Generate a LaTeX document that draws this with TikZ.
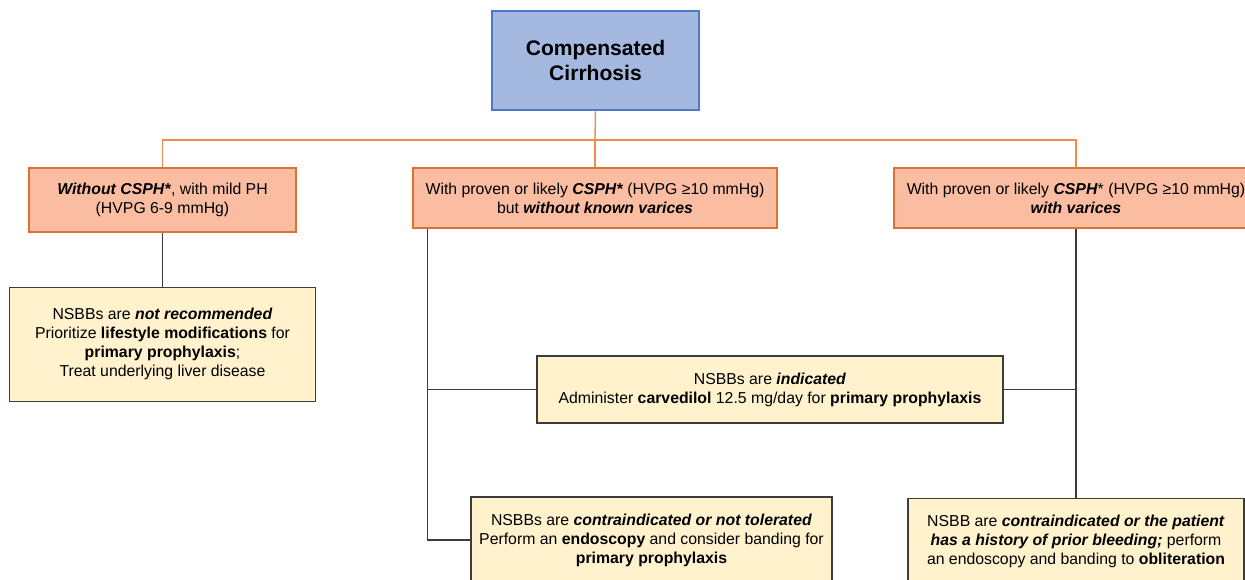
\documentclass[tikz,border=0pt]{standalone}
\usepackage{fontspec}
\setmainfont{Liberation Sans}
\usetikzlibrary{positioning}
\definecolor{cirblue}{RGB}{164,184,224}
\definecolor{cirline}{RGB}{80,120,196}
\definecolor{stagefill}{RGB}{251,189,162}
\definecolor{stageline}{RGB}{222,112,50}
\definecolor{advfill}{RGB}{255,242,204}
\definecolor{advline}{RGB}{60,60,60}
\definecolor{branchorange}{RGB}{240,140,80}
\definecolor{linkgray}{RGB}{60,60,60}

\begin{document}
\begin{tikzpicture}[x=0.02cm,y=-0.02cm,font=\fontsize{9}{10.8}\selectfont]
  \tikzstyle{box}=[draw,align=center,inner sep=2pt,line width=0.7pt]
  \tikzstyle{stage}=[box,fill=stagefill,draw=stageline]
  \tikzstyle{advice}=[box,fill=advfill,draw=advline]
  \tikzstyle{branch}=[draw=branchorange,line width=0.8pt]
  \tikzstyle{link}=[draw=linkgray,line width=0.9pt]
  \useasboundingbox (0,0) rectangle (1245,579);
  \clip (0,0) rectangle (1245,579);
  \node[box,fill=cirblue,draw=cirline,minimum width=4.14cm,minimum height=1.98cm,font=\fontsize{12}{14.2}\selectfont\bfseries] (cc) at (595.5,60.5) {Compensated\\Cirrhosis};
  \node[stage,minimum width=5.34cm,minimum height=1.28cm] (wo) at (162.5,200) {\textbf{\textit{Without CSPH*}}, with mild PH\\(HVPG 6-9 mmHg)};
  \node[stage,minimum width=7.28cm,minimum height=1.2cm] (nv) at (595,198) {With proven or likely \textbf{\textit{CSPH*}} (HVPG ≥10 mmHg)\\but \textbf{\textit{without known varices}}};
  \node[stage,minimum width=7.28cm,minimum height=1.2cm] (wv) at (1076,198) {With proven or likely \textbf{\textit{CSPH}}* (HVPG ≥10 mmHg)\\\textbf{\textit{with varices}}};
  \node[advice,minimum width=6.12cm,minimum height=2.28cm,below=1.08cm of wo] (nr) {NSBBs are \textbf{\textit{not recommended}}\\Prioritize \textbf{lifestyle modifications} for\\\textbf{primary prophylaxis};\\Treat underlying liver disease};
  \node[advice,minimum width=9.32cm,minimum height=1.34cm] (ind) at (770,389.5) {NSBBs are \textbf{\textit{indicated}}\\Administer \textbf{carvedilol} 12.5 mg/day for \textbf{primary prophylaxis}};
  \node[advice,minimum width=7.22cm,minimum height=1.72cm] (ci) at (651.5,540) {NSBBs are \textbf{\textit{contraindicated or not tolerated}}\\Perform an \textbf{endoscopy} and consider banding for\\\textbf{primary prophylaxis}};
  \node[advice,minimum width=6.72cm,minimum height=1.72cm,below=5.38cm of wv] (bl) {NSBB are \textbf{\textit{contraindicated or the patient}}\\\textbf{\textit{has a history of prior bleeding;}} perform\\an endoscopy and banding to \textbf{obliteration}};
  \coordinate (split) at (595,140);
  \coordinate (tl) at ([xshift=0.3cm]nv.south west);
  \draw[branch] (cc.south) -- (split);
  \draw[branch] (split) -| (wo.north);
  \draw[branch] (split) -- (nv.north);
  \draw[branch] (split) -| (wv.north);
  \draw[link] (wo.south) -- (nr.north);
  \draw[link] (tl) |- (ci.west);
  \draw[link] (ind.west) -- (ind.west -| tl);
  \draw[link] (wv.south) -- (bl.north);
  \draw[link] (ind.east) -- (ind.east -| wv.south);
\end{tikzpicture}
\end{document}
